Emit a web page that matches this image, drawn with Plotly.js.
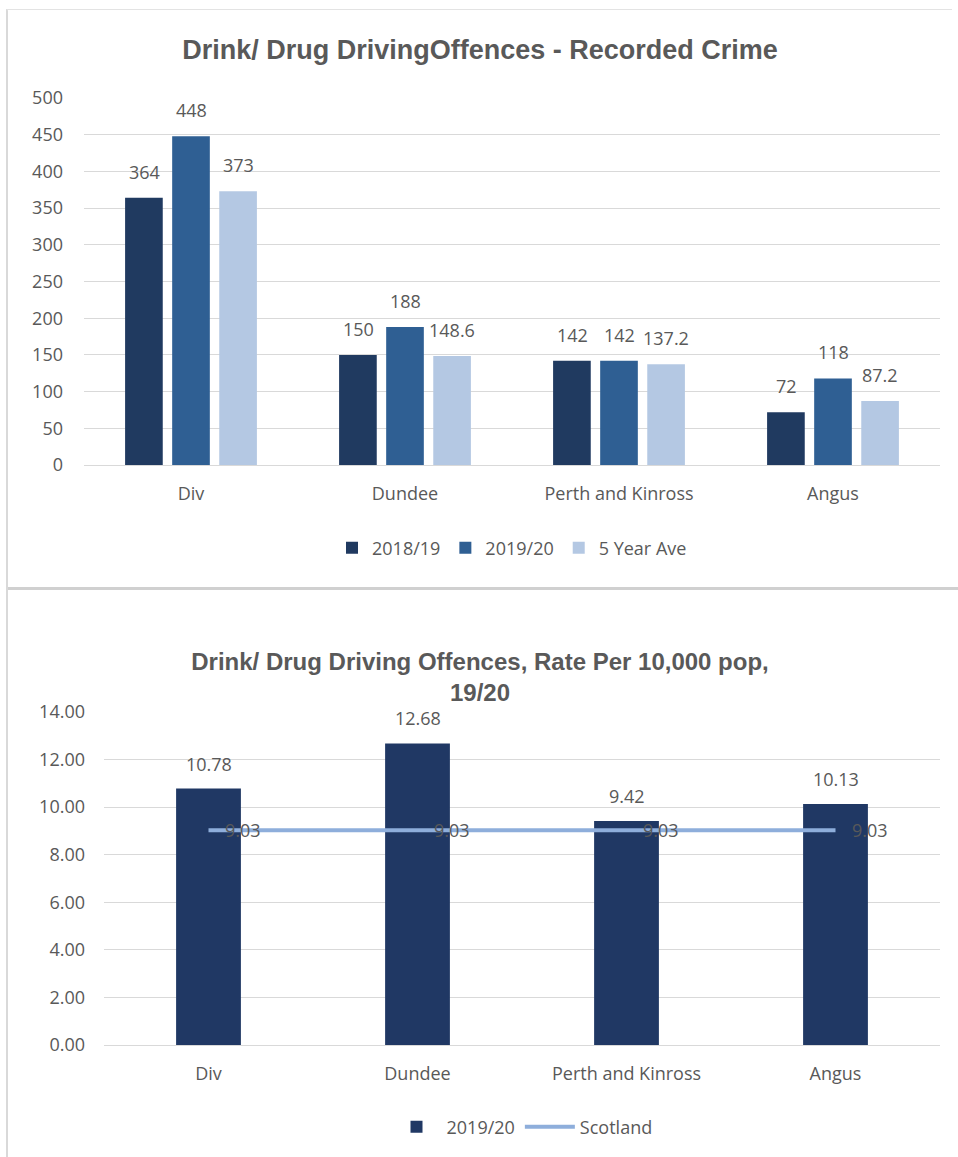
<!DOCTYPE html>
<html>
<head>
<meta charset="utf-8">
<script src="https://cdn.plot.ly/plotly-3.0.1.min.js"></script>
<style>
  html, body { margin: 0; padding: 0; background: #ffffff; }
  #frame { position: absolute; left: 6px; top: 9px; width: 946px; height: 1148px;
           border-left: 2px solid #d9d9d9; border-top: 2px solid #e3e3e3; box-sizing: border-box; }
  #c1 { position: absolute; left: 8px; top: 10px; width: 944px; height: 578px; }
  #sep { position: absolute; left: 8px; top: 587px; width: 950px; height: 3px; background: #d0d0d0; }
  #c2 { position: absolute; left: 8px; top: 590px; width: 944px; height: 567px; }
</style>
</head>
<body>
<div id="frame"></div>
<div id="c1"></div>
<div id="sep"></div>
<div id="c2"></div>
<script>
// ---- Data: chart 1 ----
const categories = ["Div", "Dundee", "Perth and Kinross", "Angus"];
const y2018_19 = [364, 150, 142, 72];
const y2019_20 = [448, 188, 142, 118];
const fiveYearAve = [373, 148.6, 137.2, 87.2];
const yTicks1 = [0, 50, 100, 150, 200, 250, 300, 350, 400, 450, 500];

// ---- Data: chart 2 ----
const rate2019_20 = [10.78, 12.68, 9.42, 10.13];
const scotland = [9.03, 9.03, 9.03, 9.03];
const yTicks2 = [0, 2, 4, 6, 8, 10, 12, 14];

const FONT = "'Open Sans', Lato, 'Liberation Sans', sans-serif";
const TFONT = "'Liberation Sans', Arial, sans-serif";
const GREY = "#595959";
const LBL = { family: FONT, size: 18, color: GREY };

function barTrace(name, vals, color) {
  return { type: "bar", name: name, x: categories, y: vals,
           marker: { color: color }, hoverinfo: "none" };
}

const series1 = [
  { name: "2018/19", vals: y2018_19, color: "#203a60", shift: -47 },
  { name: "2019/20", vals: y2019_20, color: "#2f5f93", shift: 0 },
  { name: "5 Year Ave", vals: fiveYearAve, color: "#b4c8e3", shift: 47 }
];
const data1 = series1.map(s => barTrace(s.name, s.vals, s.color));
const ann1 = [];
series1.forEach(s => s.vals.forEach((v, i) => ann1.push({
  x: categories[i], y: v, xref: "x", yref: "y", text: String(v), showarrow: false,
  xshift: s.shift, yshift: 26, yanchor: "middle", font: LBL
})));

const layout1 = {
  width: 944, height: 578,
  margin: { l: 76, r: 12, t: 88, b: 123 },
  paper_bgcolor: "#ffffff", plot_bgcolor: "#ffffff",
  title: { text: "<b>Drink/ Drug DrivingOffences - Recorded Crime</b>",
           font: { family: TFONT, size: 27, color: GREY },
           x: 0.5, xanchor: "center", y: 1 - 40/578, yanchor: "middle", yref: "container" },
  barmode: "group", bargap: 0.34, bargroupgap: 0.2,
  xaxis: { type: "category", tickfont: LBL,
           showline: true, linecolor: "#d9d9d9", linewidth: 1, ticks: "",
           ticklabelstandoff: 12, fixedrange: true },
  yaxis: { range: [0, 500], tickvals: yTicks1, ticktext: yTicks1.map(String),
           tickfont: LBL,
           showgrid: true, gridcolor: "#d9d9d9", gridwidth: 1, zeroline: false,
           ticklabelstandoff: 20, fixedrange: true },
  legend: { orientation: "h", x: 0.5, xanchor: "center", y: (455-538)/367, yanchor: "middle",
            font: LBL, traceorder: "normal" },
  annotations: ann1,
  showlegend: true
};

Plotly.newPlot("c1", data1, layout1, { displayModeBar: false, staticPlot: true });

const data2 = [
  { type: "bar", name: "2019/20", x: categories, y: rate2019_20,
    marker: { color: "#203864" }, hoverinfo: "none" },
  { type: "scatter", mode: "lines", name: "Scotland", x: categories, y: scotland,
    line: { color: "#8eaedb", width: 4 }, hoverinfo: "none" }
];
const ann2 = [];
rate2019_20.forEach((v, i) => ann2.push({
  x: categories[i], y: v, xref: "x", yref: "y", text: v.toFixed(2), showarrow: false,
  yshift: 25, yanchor: "middle", font: LBL
}));
scotland.forEach((v, i) => ann2.push({
  x: categories[i], y: v, xref: "x", yref: "y", text: v.toFixed(2), showarrow: false,
  xshift: 34, yanchor: "middle", font: LBL
}));

const layout2 = {
  width: 944, height: 567,
  margin: { l: 96, r: 12, t: 122, b: 112 },
  paper_bgcolor: "#ffffff", plot_bgcolor: "#ffffff",
  title: { text: "<b>Drink/ Drug Driving Offences, Rate Per 10,000 pop,<br>19/20</b>",
           font: { family: TFONT, size: 24, color: GREY },
           x: 0.5, xanchor: "center", y: 1 - 80/567, yanchor: "middle", yref: "container" },
  bargap: 0.69,
  xaxis: { type: "category", tickfont: LBL,
           showline: true, linecolor: "#d9d9d9", linewidth: 1, ticks: "",
           ticklabelstandoff: 12, fixedrange: true },
  yaxis: { range: [0, 14], tickvals: yTicks2, ticktext: yTicks2.map(v => v.toFixed(2)),
           tickfont: LBL,
           showgrid: true, gridcolor: "#d9d9d9", gridwidth: 1, zeroline: false,
           ticklabelstandoff: 18, fixedrange: true },
  legend: { orientation: "h", x: 0.5, xanchor: "center", y: (455-537)/333, yanchor: "middle",
            font: LBL, traceorder: "normal", itemwidth: 50 },
  annotations: ann2,
  showlegend: true
};

Plotly.newPlot("c2", data2, layout2, { displayModeBar: false, staticPlot: true });
</script>
</body>
</html>
